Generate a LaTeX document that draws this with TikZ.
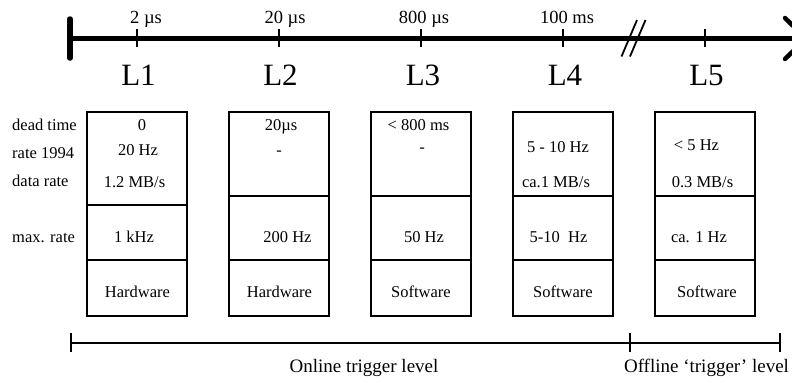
\documentclass[tikz,border=0pt]{standalone}
\usepackage{fontspec}
\setmainfont{Liberation Serif}
\begin{document}
\begin{tikzpicture}[x=1bp,y=-1bp,
  txt/.style={inner sep=0pt, anchor=base, font=\fontsize{16.5bp}{18bp}\selectfont},
  lab/.style={txt, anchor=base west},
  toplab/.style={inner sep=0pt, anchor=base, font=\fontsize{18.5bp}{20bp}\selectfont},
  big/.style={inner sep=0pt, anchor=base, font=\fontsize{31bp}{34bp}\selectfont},
  bottomlab/.style={inner sep=0pt, anchor=base, font=\fontsize{19bp}{21bp}\selectfont},
  cell/.style={draw, line width=1.3bp},
  axisline/.style={line width=4.5bp},
  tickline/.style={line width=1.5bp},
  brline/.style={line width=1.3bp},
  slashline/.style={line width=1.8bp}]
\useasboundingbox (0,0) rectangle (792,382);

% time axis
\coordinate (a0) at (70,38.5);
\coordinate (a1) at (806,38.5);
\draw[axisline] (a0) -- (a1);
\draw[line width=5.5bp, line cap=round] (70,19) -- (70,58);
\coordinate (tip) at (806,38.5);
\draw[axisline, line cap=round] (785,18) -- (tip) -- (785,59);

% ticks
\foreach \x/\n in {137/t1,279/t2,421/t3,563/t4,705/t5}{
  \coordinate (\n a) at (\x,29);
  \coordinate (\n b) at (\x,47);
  \draw[tickline] (\n a) -- (\n b);
}
% break mark
\draw[slashline] (621.5,56.5) -- (637,20);
\draw[slashline] (630,56.5) -- (645.5,20);

% tick labels
\node[toplab] (u1) at (146,23) {2 µs};
\node[toplab] (u2) at (285,23) {20 µs};
\node[toplab] (u3) at (424,23) {800 µs};
\node[toplab] (u4) at (567,23) {100 ms};

% level labels
\node[big] (L1) at (138.5,85) {L1};
\node[big] (L2) at (280.5,85) {L2};
\node[big] (L3) at (423,85) {L3};
\node[big] (L4) at (565,85) {L4};
\node[big] (L5) at (706.5,85) {L5};

% boxes
\draw[cell] (87,112) rectangle (187,316);
\draw[cell] (87,205) -- (187,205);
\draw[cell] (87,260) -- (187,260);
\foreach \l in {229,371,513,655}{
  \draw[cell] (\l,112) rectangle ({\l+100},316);
  \draw[cell] (\l,196) -- ({\l+100},196);
  \draw[cell] (\l,260) -- ({\l+100},260);
}

% row labels
\node[lab] (r1) at (12,130) {dead time};
\node[lab] (r2) at (12,158) {rate 1994};
\node[lab] (r3) at (12,186) {data rate};
\node[lab] (r4) at (12,242) {max. rate};

% L1 box
\node[txt] (b1a) at (142,130) {0};
\node[txt] (b1b) at (138,155) {20 Hz};
\node[txt] (b1c) at (134.5,187) {1.2 MB/s};
\node[txt] (b1d) at (134,242) {1 kHz};
\node[txt] (b1e) at (137.5,297) {Hardware};
% L2 box
\node[txt] (b2a) at (281,130) {20µs};
\node[txt] (b2b) at (279,155) {-};
\node[txt] (b2d) at (287.5,242) {200 Hz};
\node[txt] (b2e) at (279.5,297) {Hardware};
% L3 box
\node[txt] (b3a) at (418.5,130) {< 800 ms};
\node[txt] (b3b) at (422,152) {-};
\node[txt] (b3d) at (424,242) {50 Hz};
\node[txt] (b3e) at (421,297) {Software};
% L4 box
\node[txt] (b4b) at (558,152) {5 - 10 Hz};
\node[txt] (b4c) at (556,187) {ca.1 MB/s};
\node[txt] (b4d) at (558.5,242) {5-10\ \ Hz};
\node[txt] (b4e) at (563,297) {Software};
% L5 box
\node[txt] (b5b) at (696.5,150) {< 5 Hz};
\node[txt] (b5c) at (702.5,187) {0.3 MB/s};
\node[txt] (b5d) at (699,242) {ca. 1 Hz};
\node[txt] (b5e) at (707,297) {Software};

% bottom bracket
\coordinate (s0) at (71,343);
\coordinate (s1) at (630,343);
\coordinate (s2) at (780,343);
\draw[brline] (s0) -- (s2);
\foreach \c in {s0,s1,s2}{
  \draw[brline] ([yshift=-9bp]\c) -- ([yshift=10bp]\c);
}
\node[bottomlab] (on) at (364,372) {Online trigger level};
\node[bottomlab] (off) at (706.5,372) {Offline ‘trigger’ level};
\end{tikzpicture}
\end{document}
